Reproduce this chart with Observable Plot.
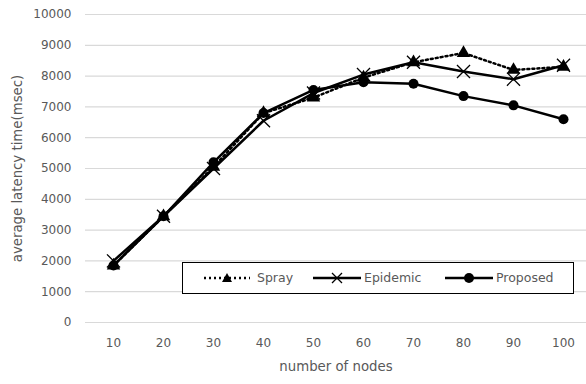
<!DOCTYPE html>
<html><head><meta charset="utf-8">
<script src="https://cdn.jsdelivr.net/npm/d3@7"></script>
<script src="https://cdn.jsdelivr.net/npm/@observablehq/plot@0.6"></script>
<style>
body{margin:0;background:#fff;}
#wrap{position:relative;width:586px;height:384px;font-family:"DejaVu Sans",sans-serif;}
#legend{position:absolute;left:182px;top:262px;width:392px;height:32px;border:1.5px solid #000;background:#fff;box-sizing:border-box;font-size:12.5px;color:#595959;}
#legend .it{position:absolute;top:0;height:29px;display:flex;align-items:center;}
#legend svg{display:block}
</style></head>
<body><div id="wrap"></div>
<script>
const nodes = [10,20,30,40,50,60,70,80,90,100];
const spray = [1850,3450,5050,6800,7300,7950,8450,8750,8200,8300];
const epidemic = [2000,3450,5000,6550,7450,8050,8450,8150,7900,8350];
const proposed = [1850,3450,5200,6800,7550,7800,7750,7350,7050,6600];
const yTicks = [0,1000,2000,3000,4000,5000,6000,7000,8000,9000,10000];
const seriesNames = ["Spray","Epidemic","Proposed"];

const rows = [];
[spray,epidemic,proposed].forEach((arr,i)=>arr.forEach((v,j)=>rows.push({s:seriesNames[i],x:nodes[j],y:v})));
const sel = n => rows.filter(d=>d.s===n);

const chart = Plot.plot({
  width:586, height:384,
  marginLeft:85, marginRight:0, marginTop:14, marginBottom:62,
  style:{fontFamily:"DejaVu Sans, sans-serif", fontSize:"12px", color:"#595959", background:"#fff"},
  x:{type:"point", domain:nodes, range:[110,565], padding:0, label:null},
  y:{domain:[0,10000], ticks:yTicks, label:null},
  marks:[
    Plot.ruleY(yTicks,{stroke:"#d9d9d9", strokeWidth:1.2}),
    Plot.axisY({ticks:yTicks, tickSize:0, tickPadding:14, tickFormat:d=>String(d), fill:"#595959", fontSize:12}),
    Plot.axisX({tickSize:0, tickPadding:16, fill:"#595959", fontSize:12}),
    Plot.text(["number of nodes"],{frameAnchor:"bottom", dy:48, fill:"#595959", fontSize:13.3}),
    Plot.text(["average latency time(msec)"],{frameAnchor:"left", dx:-68, rotate:-90, textAnchor:"middle", fill:"#595959", fontSize:13.3}),
    Plot.line(sel("Spray"),{x:"x",y:"y",stroke:"#000",strokeWidth:2.5,strokeDasharray:"2,3"}),
    Plot.line(sel("Epidemic"),{x:"x",y:"y",stroke:"#000",strokeWidth:2.5}),
    Plot.line(sel("Proposed"),{x:"x",y:"y",stroke:"#000",strokeWidth:2.5}),
    Plot.dot(sel("Spray"),{x:"x",y:"y",symbol:"triangle",fill:"#000",r:5}),
    Plot.dot(sel("Epidemic"),{x:"x",y:"y",symbol:"times",stroke:"#000",strokeWidth:1.3,r:6}),
    Plot.dot(sel("Proposed"),{x:"x",y:"y",symbol:"circle",fill:"#000",r:5})
  ]
});
const wrap = document.getElementById("wrap");
wrap.appendChild(chart);

const lg = document.createElement("div");
lg.id="legend";
lg.innerHTML = `
<div class="it" style="left:21px"><svg width="46" height="14"><line x1="0" y1="7" x2="46" y2="7" stroke="#000" stroke-width="2.5" stroke-dasharray="2,3"/><path d="M23,2 L28,11 L18,11 Z" fill="#000"/></svg><span style="margin-left:7px">${seriesNames[0]}</span></div>
<div class="it" style="left:130px"><svg width="48" height="14"><line x1="0" y1="7" x2="48" y2="7" stroke="#000" stroke-width="2.5"/><path d="M19,2 L29,12 M29,2 L19,12" stroke="#000" stroke-width="1.3"/></svg><span style="margin-left:3px">${seriesNames[1]}</span></div>
<div class="it" style="left:262px"><svg width="48" height="14"><line x1="0" y1="7" x2="48" y2="7" stroke="#000" stroke-width="2.5"/><circle cx="24" cy="7" r="5" fill="#000"/></svg><span style="margin-left:3px">${seriesNames[2]}</span></div>`;
wrap.appendChild(lg);
</script></body></html>
